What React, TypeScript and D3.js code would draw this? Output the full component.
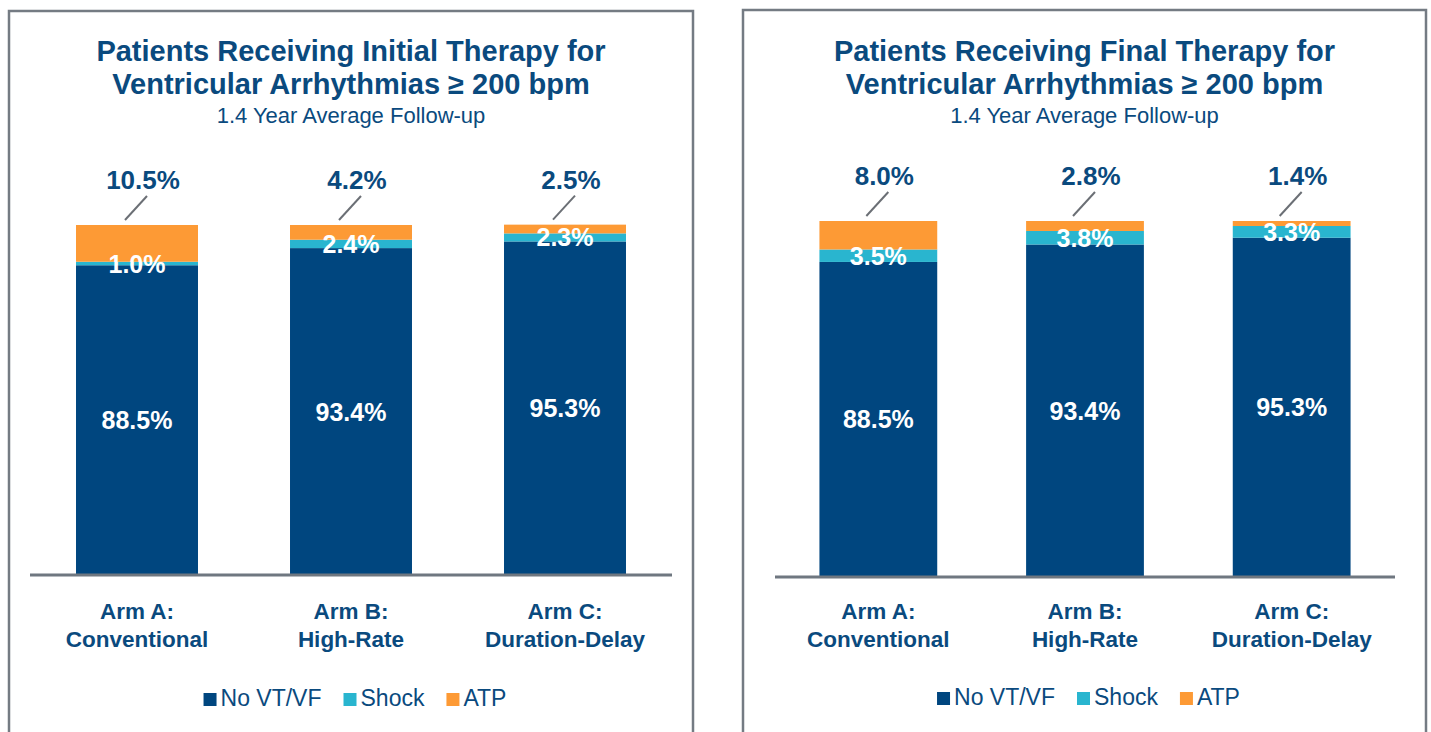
import { useEffect, useRef } from 'react';
import * as d3 from 'd3';

const categories = [
  ['Arm A:', 'Conventional'],
  ['Arm B:', 'High-Rate'],
  ['Arm C:', 'Duration-Delay']
];
const seriesNames = ['No VT/VF', 'Shock', 'ATP'];

const initialNoVT = [88.5, 93.4, 95.3];
const initialShock = [1.0, 2.4, 2.3];
const initialATP = [10.5, 4.2, 2.5];

const finalNoVT = [88.5, 93.4, 95.3];
const finalShock = [3.5, 3.8, 3.3];
const finalATP = [8.0, 2.8, 1.4];

const colors = ['#00467f', '#29b5cf', '#fd9a35'];
const navy = '#0a4a7e';
const gray = '#6f7780';
const FONT = '"Liberation Sans", Arial, sans-serif';

const panels = [
  {
    title: ['Patients Receiving Initial Therapy for', 'Ventricular Arrhythmias \u2265 200 bpm'],
    subtitle: '1.4 Year Average Follow-up',
    noVT: initialNoVT, shock: initialShock, atp: initialATP,
    frame: { x: 9, y: 11, w: 684 },
    xRange: [30, 672], yRange: [575, 225],
    titleY: [61, 94], subY: 123, catY: [619, 647], legendY: 706
  },
  {
    title: ['Patients Receiving Final Therapy for', 'Ventricular Arrhythmias \u2265 200 bpm'],
    subtitle: '1.4 Year Average Follow-up',
    noVT: finalNoVT, shock: finalShock, atp: finalATP,
    frame: { x: 743, y: 10, w: 683 },
    xRange: [775, 1395], yRange: [577, 221],
    titleY: [61, 94], subY: 123, catY: [619, 647], legendY: 705
  }
];

export default function App() {
  const svgRef = useRef(null);

  useEffect(() => {
    const svg = d3.select(svgRef.current);
    svg.selectAll('*').remove();

    panels.forEach((p) => {
      const g = svg.append('g');
      const cx = p.frame.x + p.frame.w / 2;

      g.append('rect')
        .attr('x', p.frame.x)
        .attr('y', p.frame.y)
        .attr('width', p.frame.w)
        .attr('height', 800)
        .attr('fill', 'white')
        .attr('stroke', '#747b83')
        .attr('stroke-width', 2.5);

      p.title.forEach((line, i) => {
        g.append('text')
          .attr('x', cx)
          .attr('y', p.titleY[i])
          .attr('text-anchor', 'middle')
          .attr('font-family', FONT)
          .attr('font-size', 29)
          .attr('font-weight', 700)
          .attr('fill', navy)
          .text(line);
      });

      g.append('text')
        .attr('x', cx)
        .attr('y', p.subY)
        .attr('text-anchor', 'middle')
        .attr('font-family', FONT)
        .attr('font-size', 22)
        .attr('fill', navy)
        .text(p.subtitle);

      const rows = categories.map((c, i) => ({
        cat: c.join(' '),
        noVT: p.noVT[i],
        shock: p.shock[i],
        atp: p.atp[i]
      }));

      const x = d3.scaleBand()
        .domain(rows.map(r => r.cat))
        .range(p.xRange)
        .paddingInner(0.43)
        .paddingOuter(0.215);

      const y = d3.scaleLinear().domain([0, 100]).range(p.yRange);

      const stack = d3.stack().keys(['noVT', 'shock', 'atp']);
      const layers = stack(rows);

      layers.forEach((layer, li) => {
        g.selectAll(null)
          .data(layer)
          .enter()
          .append('rect')
          .attr('x', d => x(d.data.cat))
          .attr('y', d => y(d[1]))
          .attr('width', x.bandwidth())
          .attr('height', d => y(d[0]) - y(d[1]))
          .attr('fill', colors[li]);
      });

      // axis line
      g.append('line')
        .attr('x1', p.xRange[0])
        .attr('x2', p.xRange[1])
        .attr('y1', y(0))
        .attr('y2', y(0))
        .attr('stroke', gray)
        .attr('stroke-width', 3);

      // inner labels: No VT/VF and Shock
      [0, 1].forEach((li) => {
        g.selectAll(null)
          .data(layers[li])
          .enter()
          .append('text')
          .attr('x', d => x(d.data.cat) + x.bandwidth() / 2)
          .attr('y', d => (y(d[0]) + y(d[1])) / 2 + 9)
          .attr('text-anchor', 'middle')
          .attr('font-family', FONT)
          .attr('font-size', 25)
          .attr('font-weight', 700)
          .attr('fill', 'white')
          .text(d => (d[1] - d[0]).toFixed(1) + '%');
      });

      // ATP labels above the bars with leader lines
      const top = layers[2];
      top.forEach((d) => {
        const bx = x(d.data.cat) + x.bandwidth() / 2;
        const by = y(d[1]);
        g.append('line')
          .attr('x1', bx - 12)
          .attr('y1', by - 5)
          .attr('x2', bx + 10)
          .attr('y2', by - 29)
          .attr('stroke', '#6b6f75')
          .attr('stroke-width', 2);
        g.append('text')
          .attr('x', bx + 6)
          .attr('y', by - 36)
          .attr('text-anchor', 'middle')
          .attr('font-family', FONT)
          .attr('font-size', 26)
          .attr('font-weight', 700)
          .attr('fill', navy)
          .text(d.data.atp.toFixed(1) + '%');
      });

      // category labels
      rows.forEach((r, i) => {
        categories[i].forEach((line, k) => {
          g.append('text')
            .attr('x', x(r.cat) + x.bandwidth() / 2)
            .attr('y', p.catY[k])
            .attr('text-anchor', 'middle')
            .attr('font-family', FONT)
            .attr('font-size', 22.5)
            .attr('font-weight', 700)
            .attr('fill', navy)
            .text(line);
        });
      });

      // legend
      const leg = g.append('g');
      let lx = 0;
      seriesNames.forEach((name, i) => {
        leg.append('rect')
          .attr('x', lx)
          .attr('y', p.legendY - 13)
          .attr('width', 13)
          .attr('height', 13)
          .attr('fill', colors[i]);
        const t = leg.append('text')
          .attr('x', lx + 17)
          .attr('y', p.legendY)
          .attr('font-family', FONT)
          .attr('font-size', 23)
          .attr('fill', navy)
          .text(name);
        const w = (t.node() as SVGTextElement).getComputedTextLength();
        lx += 17 + w + 22;
      });
      const total = lx - 22;
      leg.attr('transform', `translate(${cx + 4 - total / 2}, 0)`);
    });
  }, []);

  return (
    <svg
      ref={svgRef}
      width={1431}
      height={732}
      style={{ position: 'absolute', left: 0, top: 0, background: 'white' }}
    />
  );
}
